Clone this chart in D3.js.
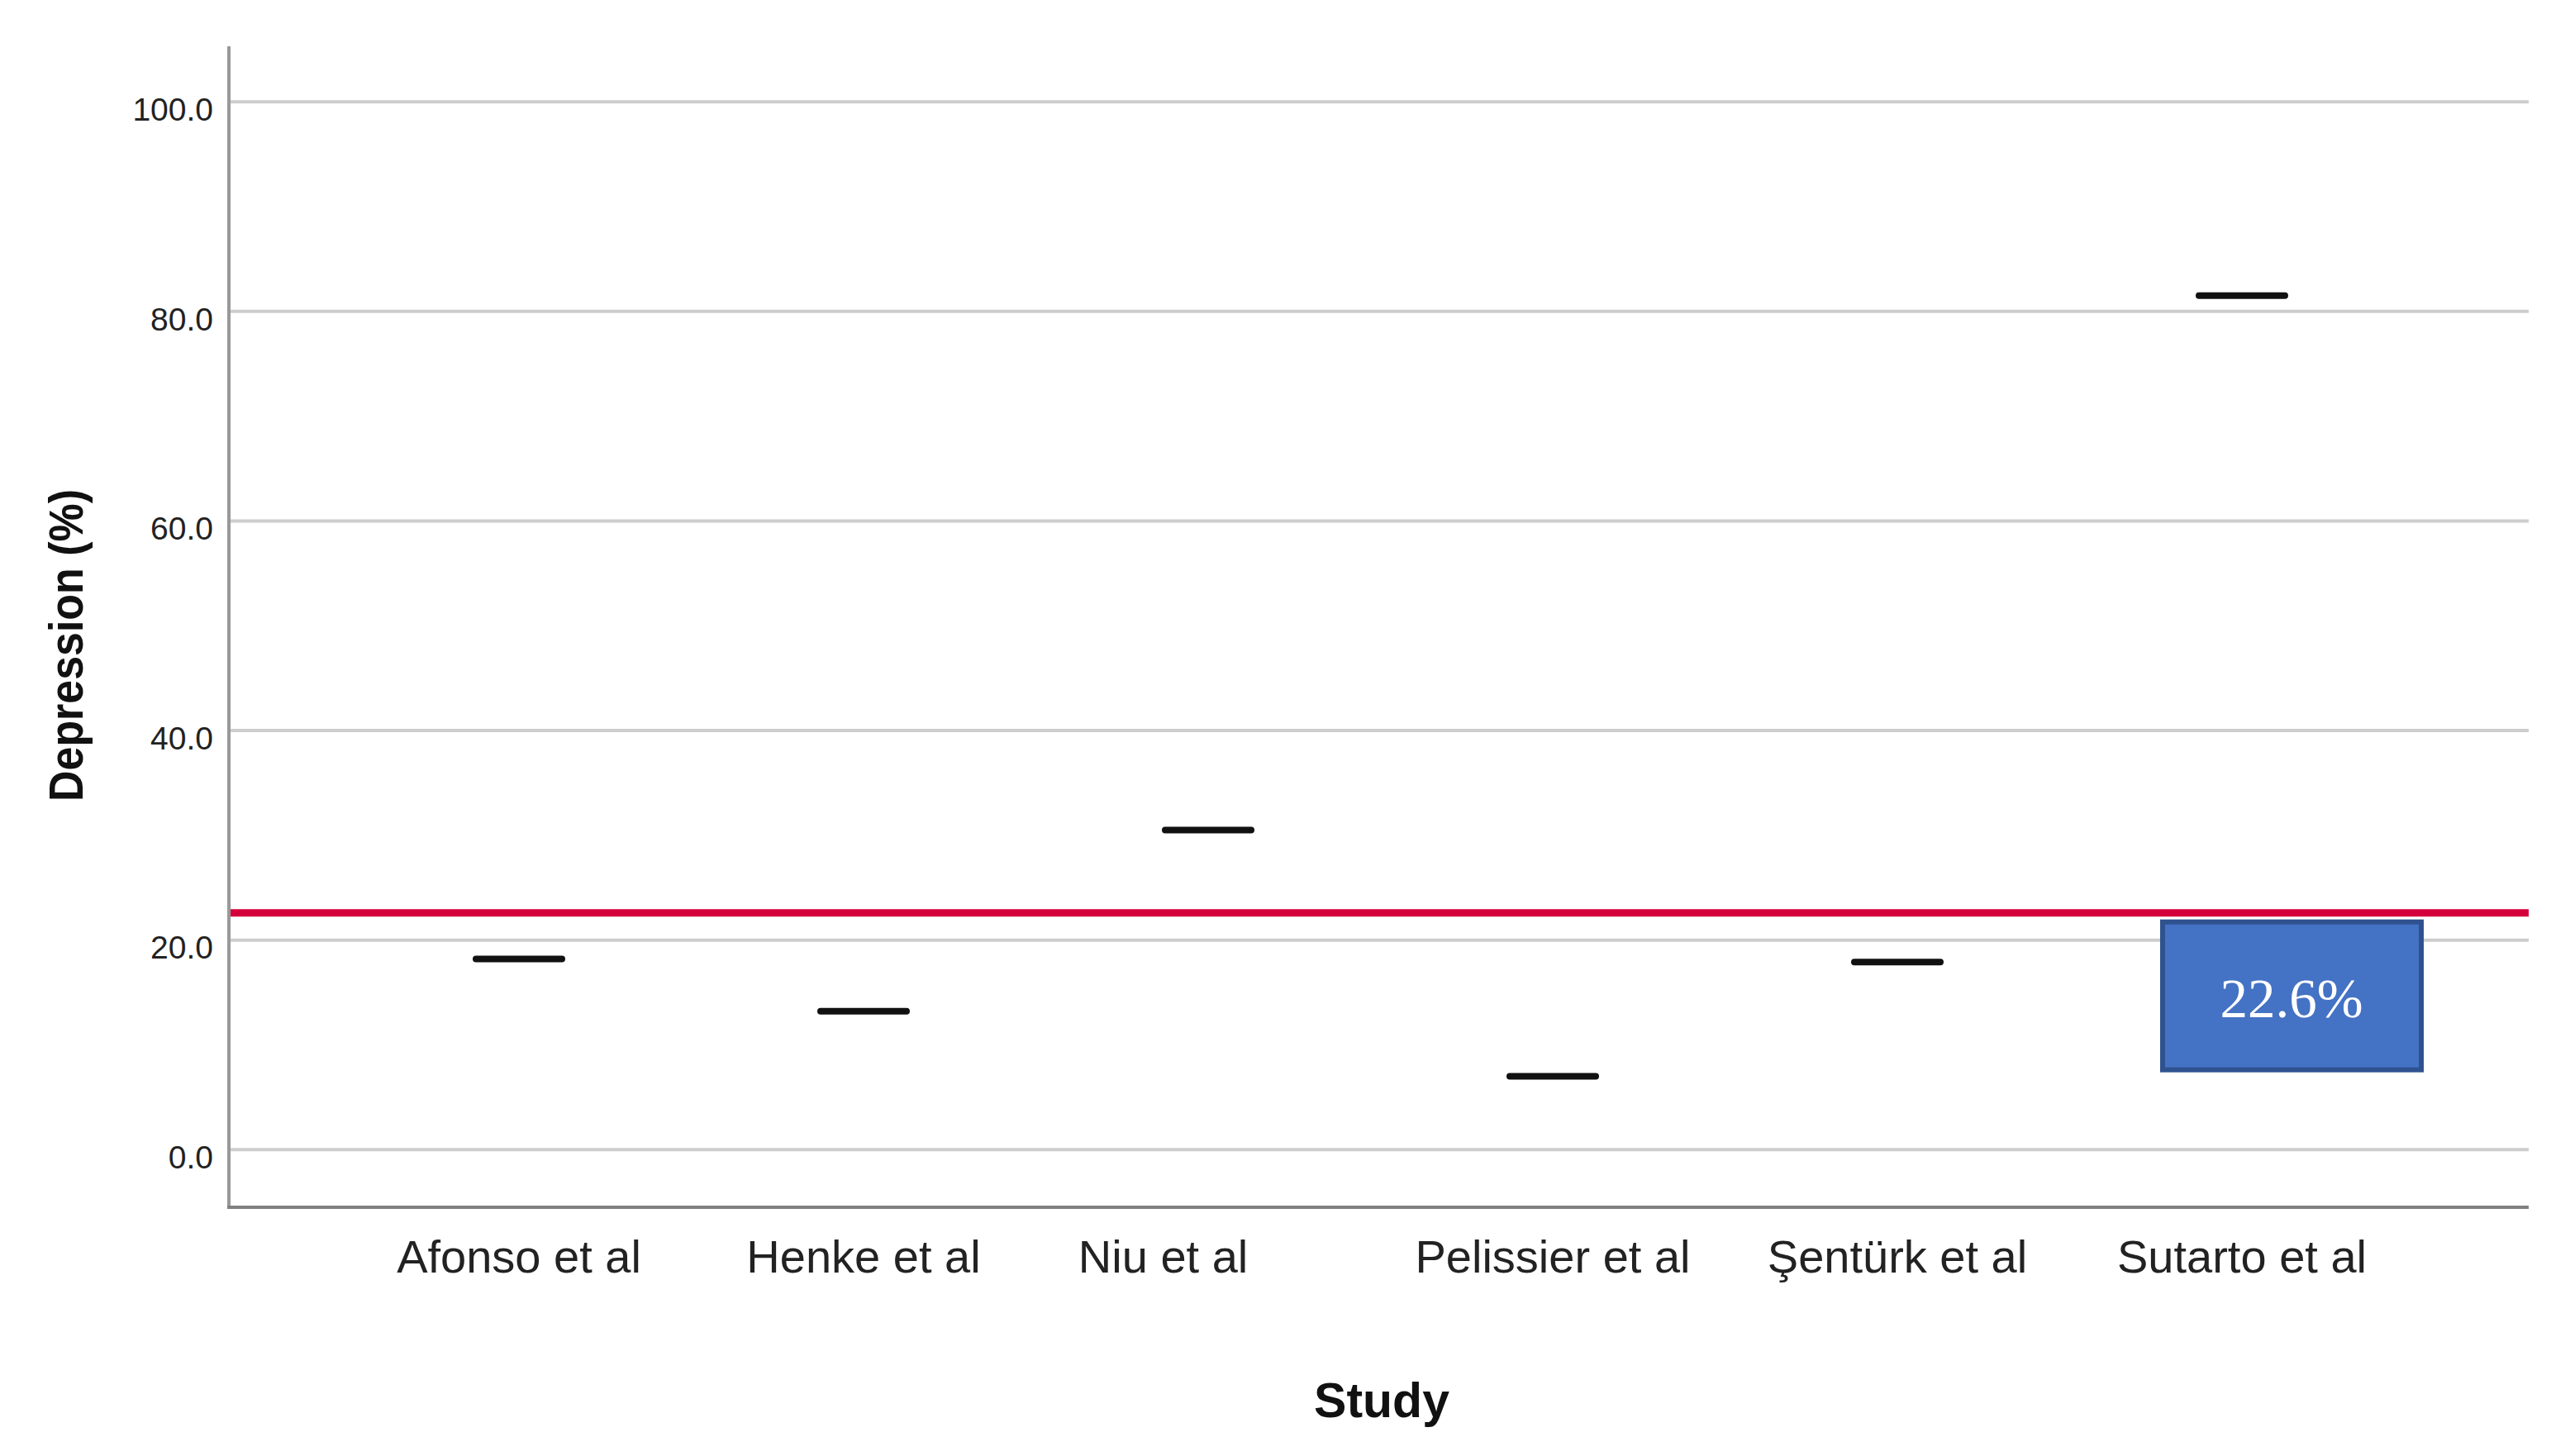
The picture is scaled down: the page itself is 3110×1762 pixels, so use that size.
<!DOCTYPE html>
<html lang="en">
    <head>
        <meta charset="UTF-8"/>
        <script src="https://d3js.org/d3.v7.min.js"></script>
        <title>Depression by Study</title>
        <style>
            body { margin: 0; background: #ffffff; }
        </style>
    </head>
    <body>
        <script type="text/javascript">

            // Study names (Niu has trailing blanks in the source, which shifts its label)
            var studies    = ["Afonso et al", "Henke et al", "Niu et al       ",
                              "Pelissier et al", "\u015eent\u00fcrk et al", "Sutarto et al"];
            var depression = [18.2, 13.2, 30.5, 7.0, 17.9, 81.5];
            var pooled     = 22.6;
            var yTicks     = [0, 20, 40, 60, 80, 100];

            var w = 3110;
            var h = 1762;

            var plotLeft   = 277;
            var plotRight  = 3060;
            var plotTop    = 56;
            var plotBottom = 1461;

            var sans  = "'Liberation Sans', Arial, sans-serif";
            var serif = "'Liberation Serif', 'Times New Roman', serif";

            var dataset = studies.map(function(s, i) {
                return { Study: s, Value: depression[i] };
            });

            var xScale = d3.scaleBand()
                           .domain(studies)
                           .range([419.5, 2921.5]);

            var yScale = d3.scaleLinear()
                           .domain([-5.5, 105.3])
                           .range([plotBottom, plotTop]);

            var svg = d3.select("body")
                        .append("svg")
                        .attr("width", w)
                        .attr("height", h)
                        .style("font-family", sans);

            svg.append("rect")
               .attr("width", w)
               .attr("height", h)
               .attr("fill", "#ffffff");

            // gridlines
            svg.append("g")
               .selectAll("line")
               .data(yTicks)
               .enter()
               .append("line")
               .attr("x1", plotLeft)
               .attr("x2", plotRight)
               .attr("y1", function(d) { return yScale(d); })
               .attr("y2", function(d) { return yScale(d); })
               .attr("stroke", "#cdcdcd")
               .attr("stroke-width", 4);

            // y axis
            var yAxis = d3.axisLeft()
                          .scale(yScale)
                          .tickValues(yTicks)
                          .tickSize(0)
                          .tickPadding(19)
                          .tickFormat(d3.format(".1f"));

            var gy = svg.append("g")
                        .attr("transform", "translate(" + plotLeft + ",0)")
                        .call(yAxis);
            gy.select(".domain").remove();
            gy.attr("font-family", null);
            gy.selectAll("text")
              .attr("font-size", 39)
              .attr("fill", "#222222")
              .attr("dy", "0.57em");

            // x axis labels
            var xAxis = d3.axisBottom()
                          .scale(xScale)
                          .tickSize(0)
                          .tickPadding(0);

            var gx = svg.append("g")
                        .attr("transform", "translate(0," + plotBottom + ")")
                        .call(xAxis);
            gx.select(".domain").remove();
            gx.attr("font-family", null);
            gx.selectAll("text")
              .attr("font-size", 56)
              .attr("fill", "#222222")
              .attr("dy", 0)
              .attr("y", 79)
              .style("white-space", "pre");

            // axis lines
            svg.append("line")
               .attr("x1", plotLeft).attr("x2", plotLeft)
               .attr("y1", plotTop).attr("y2", plotBottom)
               .attr("stroke", "#999999")
               .attr("stroke-width", 4);

            svg.append("line")
               .attr("x1", plotLeft - 2).attr("x2", plotRight)
               .attr("y1", plotBottom).attr("y2", plotBottom)
               .attr("stroke", "#808080")
               .attr("stroke-width", 4);

            // pooled prevalence line
            svg.append("line")
               .attr("x1", plotLeft + 2)
               .attr("x2", plotRight)
               .attr("y1", yScale(pooled))
               .attr("y2", yScale(pooled))
               .attr("stroke", "#d4003c")
               .attr("stroke-width", 9);

            // one dash per study
            svg.selectAll(".mark")
               .data(dataset)
               .enter()
               .append("line")
               .attr("class", "mark")
               .attr("x1", function(d) { return xScale(d.Study) + xScale.bandwidth() / 2 - 52; })
               .attr("x2", function(d) { return xScale(d.Study) + xScale.bandwidth() / 2 + 52; })
               .attr("y1", function(d) { return yScale(d.Value); })
               .attr("y2", function(d) { return yScale(d.Value); })
               .attr("stroke", "#111111")
               .attr("stroke-width", 8)
               .attr("stroke-linecap", "round");

            // value box under the pooled line
            var boxX = xScale(studies[5]) + xScale.bandwidth() / 2 - 96;
            var boxY = yScale(pooled) + 11;
            svg.append("rect")
               .attr("x", boxX)
               .attr("y", boxY)
               .attr("width", 313)
               .attr("height", 179)
               .attr("fill", "#4472c4")
               .attr("stroke", "#2f528f")
               .attr("stroke-width", 6);

            svg.append("text")
               .attr("x", boxX + 156)
               .attr("y", boxY + 115)
               .attr("text-anchor", "middle")
               .style("font-family", serif)
               .attr("font-size", 67)
               .attr("fill", "#ffffff")
               .text(pooled.toFixed(1) + "%");

            // titles
            svg.append("text")
               .attr("transform", "translate(100,781) rotate(-90)")
               .attr("text-anchor", "middle")
               .attr("font-weight", "bold")
               .attr("font-size", 58)
               .attr("textLength", 378)
               .attr("lengthAdjust", "spacingAndGlyphs")
               .attr("fill", "#111111")
               .text("Depression (%)");

            svg.append("text")
               .attr("x", 1672)
               .attr("y", 1715)
               .attr("text-anchor", "middle")
               .attr("font-weight", "bold")
               .attr("font-size", 59)
               .attr("fill", "#111111")
               .text("Study");

        </script>
    </body>
</html>
